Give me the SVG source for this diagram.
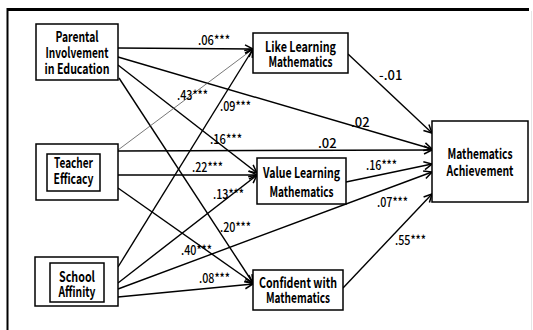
<svg xmlns="http://www.w3.org/2000/svg" width="533" height="330" viewBox="0 0 533 330">
<style>
.box{fill:#fff;stroke:#000;stroke-width:1.5}
.nt{font-family:"Noto Sans CJK KR","Noto Sans",sans-serif;font-weight:bold;font-size:14.5px;text-anchor:middle;fill:#000}
.lb{font-family:"Noto Sans CJK KR","Noto Sans",sans-serif;font-weight:500;font-size:13px;fill:#000}
.ln{stroke:#000;stroke-width:1.4;fill:none;marker-end:url(#arr)}
.thin{stroke:#555;stroke-width:0.8;fill:none;marker-end:url(#arr)}
</style>
<defs>
<marker id="arr" markerUnits="userSpaceOnUse" markerWidth="12" markerHeight="12" viewBox="0 0 12 12" refX="10" refY="6" orient="auto">
<path d="M2,2 L10,6 L2,10" fill="none" stroke="#000" stroke-width="1.5"/>
</marker>
</defs>
<rect x="0" y="0" width="533" height="330" fill="#fff"/>
<line x1="7" y1="9.5" x2="529" y2="9.5" stroke="#000" stroke-width="3"/>
<line x1="7.5" y1="8" x2="7.5" y2="330" stroke="#000" stroke-width="2"/>
<line x1="531.5" y1="11" x2="531.5" y2="330" stroke="#e6e6e6" stroke-width="1"/>

<g id="connectors">
<line class="ln" x1="118" y1="48" x2="253" y2="49"/>
<line class="ln" x1="118" y1="57" x2="432" y2="149"/>
<line class="ln" x1="118" y1="65" x2="257" y2="173"/>
<line class="ln" x1="119" y1="78" x2="253" y2="283"/>
<line class="thin" x1="118" y1="150" x2="253" y2="49"/>
<line class="ln" x1="118" y1="151" x2="432" y2="150"/>
<line class="ln" x1="118" y1="175" x2="257" y2="175"/>
<line class="ln" x1="118" y1="188" x2="253" y2="283"/>
<line class="ln" x1="118" y1="267" x2="253" y2="49"/>
<line class="ln" x1="118" y1="283" x2="257" y2="175"/>
<line class="ln" x1="118" y1="289" x2="432" y2="172"/>
<line class="ln" x1="118" y1="297" x2="253" y2="284"/>
<line class="ln" x1="348" y1="54" x2="432" y2="133"/>
<line class="ln" x1="346" y1="182" x2="432" y2="164"/>
<line class="ln" x1="343" y1="288" x2="432" y2="194"/>
<text class="lb" x="198" y="45" textLength="32" lengthAdjust="spacingAndGlyphs">.06***</text>
<text class="lb" x="177" y="100" textLength="31" lengthAdjust="spacingAndGlyphs">.43***</text>
<text class="lb" x="220" y="111" textLength="31" lengthAdjust="spacingAndGlyphs">.09***</text>
<text class="lb" x="210" y="144" textLength="32" lengthAdjust="spacingAndGlyphs">.16***</text>
<text class="lb" x="192" y="172" textLength="31" lengthAdjust="spacingAndGlyphs">.22***</text>
<text class="lb" x="213" y="199" textLength="31" lengthAdjust="spacingAndGlyphs">.13***</text>
<text class="lb" x="220" y="232" textLength="31" lengthAdjust="spacingAndGlyphs">.20***</text>
<text class="lb" x="181" y="255" textLength="31" lengthAdjust="spacingAndGlyphs">.40***</text>
<text class="lb" x="199" y="283" textLength="31" lengthAdjust="spacingAndGlyphs">.08***</text>
<text class="lb" x="351" y="127">.02</text>
<text class="lb" x="318" y="148">.02</text>
<text class="lb" x="379" y="80">-.01</text>
<text class="lb" x="366" y="170" textLength="31" lengthAdjust="spacingAndGlyphs">.16***</text>
<text class="lb" x="377" y="207" textLength="31" lengthAdjust="spacingAndGlyphs">.07***</text>
<text class="lb" x="395" y="245" textLength="31" lengthAdjust="spacingAndGlyphs">.55***</text>
</g>

<g id="parental">
<rect class="box" x="36" y="24" width="82" height="56"/>
<text class="nt" x="77" y="42" textLength="43" lengthAdjust="spacingAndGlyphs">Parental</text>
<text class="nt" x="77" y="58" textLength="63" lengthAdjust="spacingAndGlyphs">Involvement</text>
<text class="nt" x="77" y="74" textLength="65" lengthAdjust="spacingAndGlyphs">in Education</text>
</g>
<g id="teacher">
<rect class="box" x="36" y="144" width="82" height="56"/>
<rect class="box" x="47" y="154" width="53" height="37"/>
<text class="nt" x="73.5" y="168" textLength="39" lengthAdjust="spacingAndGlyphs">Teacher</text>
<text class="nt" x="73.5" y="184" textLength="40" lengthAdjust="spacingAndGlyphs">Efficacy</text>
</g>
<g id="school">
<rect class="box" x="35" y="257" width="83" height="49"/>
<rect class="box" x="50" y="263" width="54" height="39"/>
<text class="nt" x="77" y="282" textLength="36" lengthAdjust="spacingAndGlyphs">School</text>
<text class="nt" x="77" y="297" textLength="37" lengthAdjust="spacingAndGlyphs">Affinity</text>
</g>
<g id="like">
<rect class="box" x="253" y="33" width="95" height="40"/>
<text class="nt" x="300.5" y="52" textLength="71" lengthAdjust="spacingAndGlyphs">Like Learning</text>
<text class="nt" x="300.5" y="67" textLength="64" lengthAdjust="spacingAndGlyphs">Mathematics</text>
</g>
<g id="value">
<rect class="box" x="257" y="158" width="89" height="46"/>
<text class="nt" x="301.5" y="178" textLength="77" lengthAdjust="spacingAndGlyphs">Value Learning</text>
<text class="nt" x="301.5" y="197" textLength="64" lengthAdjust="spacingAndGlyphs">Mathematics</text>
</g>
<g id="confident">
<rect class="box" x="253" y="270" width="90" height="40"/>
<text class="nt" x="298" y="288" textLength="78" lengthAdjust="spacingAndGlyphs">Confident with</text>
<text class="nt" x="298" y="303" textLength="64" lengthAdjust="spacingAndGlyphs">Mathematics</text>
</g>
<g id="achievement">
<rect class="box" x="432" y="121" width="96" height="81"/>
<text class="nt" x="480" y="159" textLength="65" lengthAdjust="spacingAndGlyphs">Mathematics</text>
<text class="nt" x="480" y="176" textLength="67" lengthAdjust="spacingAndGlyphs">Achievement</text>
</g>
</svg>
